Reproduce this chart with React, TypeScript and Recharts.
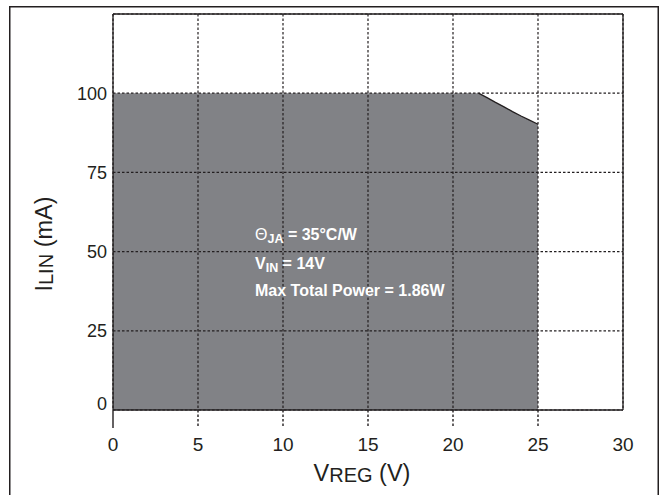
import React from "react";
import {
  Area,
  CartesianGrid,
  ComposedChart,
  Line,
  ReferenceLine,
  XAxis,
  YAxis,
} from "recharts";

// V_REG (V) and I_LIN (mA) along the top edge of the safe operating area
const vReg = [0, 21.5, 22, 22.5, 23, 23.5, 24, 24.5, 25];
const iLin = [100, 100, 98.6, 97.1, 95.7, 94.2, 92.8, 91.5, 90.2];
const curveStart = 21.5;

const xTicks = [0, 5, 10, 15, 20, 25, 30];
const yTicks = [0, 25, 50, 75, 100];
const xMax = 30;
const yMax = 125;

const INK = "#231f20";
const FILL = "#818286";
const FONT = '"Liberation Sans", Arial, Helvetica, sans-serif';
const W = 661;
const H = 495;

const data = vReg.map((v, i) => ({
  v,
  i: iLin[i],
  curve: v >= curveStart ? iLin[i] : null,
}));

function renderXTick(props: any) {
  const { x, y, payload } = props;
  const v = payload.value;
  const dash = v === 0 ? {} : { strokeDasharray: "2.5 2" };
  return (
    <g key={`xt-${v}`}>
      {v < xMax ? (
        <path d={`M${x},${y}L${x},${y + 18}`} stroke={INK} strokeWidth={1.4} {...dash} />
      ) : null}
      <text x={x} y={y + 41} textAnchor="middle" fontSize={19} fill={INK} fontFamily={FONT}>
        {v}
      </text>
    </g>
  );
}

function renderYTick(props: any) {
  const { x, y, payload } = props;
  const v = payload.value;
  return (
    <text
      key={`yt-${v}`}
      x={x}
      y={v === 0 ? y : y + 6.5}
      textAnchor="end"
      fontSize={18}
      fill={INK}
      fontFamily={FONT}
    >
      {v}
    </text>
  );
}

function Annotations() {
  return (
    <svg width={W} height={H} style={{ position: "absolute", left: 0, top: 0, pointerEvents: "none" }}>
      <rect x={9.75} y={6.75} width={648.5} height={500} fill="none" stroke={INK} strokeWidth={1.5} />
      <g fontFamily={FONT}>
        <text x={52} y={244} transform="rotate(-90 52 244)" textAnchor="middle" fontSize={23.5} fill={INK}>
          <tspan>I</tspan>
          <tspan fontSize={20} dy={1}>LIN</tspan>
          <tspan dy={-1}> (mA)</tspan>
        </text>
        <text x={362} y={481} textAnchor="middle" fontSize={23.5} fill={INK}>
          <tspan>V</tspan>
          <tspan fontSize={20} dy={1}>REG</tspan>
          <tspan dy={-1}> (V)</tspan>
        </text>
        <g fill="#fff" fontWeight="bold" fontSize={16}>
          <text x={255} y={240}>
            <tspan fontWeight="normal">Θ</tspan>
            <tspan fontSize={12.5} dy={3}>JA</tspan>
            <tspan dy={-3}> = 35°C/W</tspan>
          </text>
          <text x={255} y={269}>
            <tspan>V</tspan>
            <tspan fontSize={12.5} dy={3}>IN</tspan>
            <tspan dy={-3}> = 14V</tspan>
          </text>
          <text x={255} y={296}>Max Total Power = 1.86W</text>
        </g>
      </g>
    </svg>
  );
}

export default function App() {
  return (
    <div
      style={{
        position: "absolute",
        left: 0,
        top: 0,
        width: W,
        height: H,
        overflow: "hidden",
        background: "#fff",
        fontFamily: FONT,
      }}
    >
      {/* base chart: axes, tick labels and the shaded area */}
      <div style={{ position: "absolute", left: 0, top: 0 }}>
        <ComposedChart width={W} height={H} data={data} margin={{ top: 14, right: 38, bottom: 45, left: 53 }}>
          <XAxis
            dataKey="v"
            type="number"
            domain={[0, xMax]}
            ticks={xTicks}
            height={40}
            tickSize={0}
            tickMargin={0}
            tickLine={false}
            axisLine={{ stroke: INK, strokeWidth: 1.3 }}
            tick={renderXTick}
            interval={0}
          />
          <YAxis
            type="number"
            domain={[0, yMax]}
            ticks={yTicks}
            width={60}
            tickSize={0}
            tickMargin={6}
            tickLine={false}
            axisLine={{ stroke: INK, strokeWidth: 1.3 }}
            tick={renderYTick}
            interval={0}
          />
          <Area type="linear" dataKey="i" stroke="none" fill={FILL} fillOpacity={1} isAnimationActive={false} />
        </ComposedChart>
      </div>
      {/* overlay chart: dashed grid over the fill, curve edge and frame */}
      <div style={{ position: "absolute", left: 0, top: 0, pointerEvents: "none" }}>
        <ComposedChart width={W} height={H} data={data} margin={{ top: 14, right: 38, bottom: 85, left: 113 }}>
          <XAxis dataKey="v" type="number" domain={[0, xMax]} ticks={xTicks} hide />
          <YAxis type="number" domain={[0, yMax]} ticks={yTicks} hide />
          <CartesianGrid stroke={INK} strokeWidth={1.2} strokeDasharray="2.5 2" fill="none" />
          <Line
            type="linear"
            dataKey="curve"
            stroke={INK}
            strokeWidth={1.3}
            dot={false}
            isAnimationActive={false}
          />
          <ReferenceLine y={yMax} stroke={INK} strokeWidth={1.3} />
          <ReferenceLine x={xMax} stroke={INK} strokeWidth={1.3} />
        </ComposedChart>
      </div>
      <Annotations />
    </div>
  );
}
